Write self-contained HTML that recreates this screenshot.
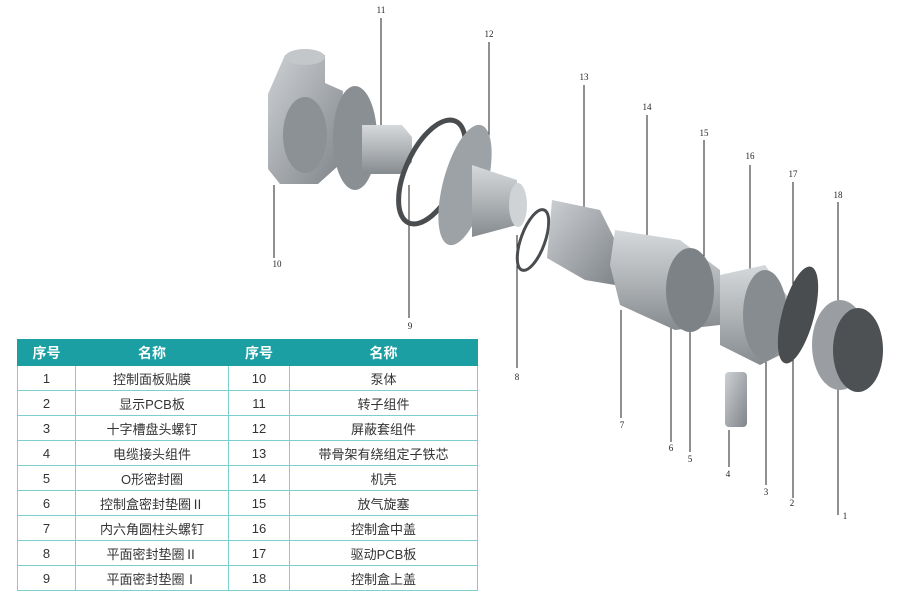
<!DOCTYPE html>
<html><head><meta charset="utf-8"><style>
html,body{margin:0;padding:0;background:#fff;width:900px;height:601px;overflow:hidden;position:relative;font-family:"Liberation Sans","Noto Sans CJK SC",sans-serif}
svg{position:absolute;left:0;top:0}
table{position:absolute;left:17px;top:339px;border-collapse:collapse;width:461px;font-size:13px;color:#333}
td,th{border:1px solid #7ccfd0;text-align:center;height:24px;padding:0}
th{background:#1c9fa3;color:#fff;font-size:14px;font-weight:bold;border-color:#1c9fa3;height:25px}
</style></head><body>
<svg width="900" height="601" viewBox="0 0 900 601">
<defs>
<linearGradient id="g" x1="0" y1="0" x2="0" y2="1"><stop offset="0" stop-color="#d6d9db"/><stop offset=".5" stop-color="#b0b4b7"/><stop offset="1" stop-color="#868b8f"/></linearGradient>
<linearGradient id="h" x1="0" y1="0" x2="1" y2="1"><stop offset="0" stop-color="#cdd0d3"/><stop offset="1" stop-color="#80858a"/></linearGradient>
</defs>
<g stroke="#222" stroke-width="1" fill="none">
<line x1="381" y1="18" x2="381" y2="170"/>
<line x1="489" y1="42" x2="489" y2="225"/>
<line x1="584" y1="85" x2="584" y2="255"/>
<line x1="647" y1="115" x2="647" y2="290"/>
<line x1="704" y1="140" x2="704" y2="318"/>
<line x1="750" y1="165" x2="750" y2="330"/>
<line x1="793" y1="182" x2="793" y2="498"/>
<line x1="838" y1="202" x2="838" y2="515"/>
<line x1="274" y1="185" x2="274" y2="258"/>
<line x1="409" y1="185" x2="409" y2="318"/>
<line x1="517" y1="235" x2="517" y2="368"/>
<line x1="621" y1="310" x2="621" y2="418"/>
<line x1="671" y1="320" x2="671" y2="442"/>
<line x1="690" y1="330" x2="690" y2="452"/>
<line x1="729" y1="430" x2="729" y2="467"/>
<line x1="766" y1="330" x2="766" y2="485"/>
</g>
<!-- pump body -->
<path d="M285 55 h40 v28 l18 8 l-5 75 l-20 18 h-38 l-12 -15 v-75 z" fill="url(#h)"/>
<ellipse cx="305" cy="57" rx="20" ry="8" fill="#c4c7ca"/>
<ellipse cx="305" cy="135" rx="22" ry="38" fill="#8c9195"/>
<!-- rotor 11 -->
<ellipse cx="355" cy="138" rx="22" ry="52" fill="#8a8f93"/>
<path d="M362 125 h40 l10 12 v25 l-10 12 h-40 z" fill="url(#g)"/>
<!-- ring 9 -->
<ellipse cx="432" cy="172" rx="26" ry="56" transform="rotate(25 432 172)" fill="none" stroke="#4a4d50" stroke-width="5"/>
<!-- shield 12 -->
<ellipse cx="465" cy="185" rx="22" ry="62" transform="rotate(15 465 185)" fill="#9da2a6"/>
<path d="M472 165 l45 15 v45 l-45 12 z" fill="url(#g)"/>
<ellipse cx="518" cy="205" rx="9" ry="22" fill="#d0d3d5"/>
<!-- ring 8 -->
<ellipse cx="533" cy="240" rx="12" ry="32" transform="rotate(20 533 240)" fill="none" stroke="#4a4d50" stroke-width="3"/>
<!-- stator 13 -->
<path d="M552 200 l48 10 l15 30 v45 l-30 -5 l-38 -22 z" fill="url(#h)"/>
<!-- casing 14 -->
<path d="M615 230 l65 10 l40 30 v55 l-45 5 l-55 -25 l-10 -40 z" fill="url(#g)"/>
<ellipse cx="690" cy="290" rx="24" ry="42" fill="#7d8286"/>
<!-- box 16 -->
<path d="M720 275 l45 -10 l25 35 v50 l-30 15 l-40 -20 z" fill="url(#g)"/>
<ellipse cx="765" cy="315" rx="22" ry="45" fill="#878c90"/>
<!-- pcb 17 -->
<ellipse cx="798" cy="315" rx="16" ry="50" transform="rotate(15 798 315)" fill="#4a4d50"/>
<!-- cover 18 -->
<ellipse cx="840" cy="345" rx="28" ry="45" fill="#9a9ea2"/>
<ellipse cx="858" cy="350" rx="25" ry="42" fill="#4e5154"/>
<!-- cable 4 -->
<rect x="725" y="372" width="22" height="55" rx="4" fill="url(#h)"/>
<g font-family="Liberation Serif, serif" font-size="9" fill="#222" text-anchor="middle">
<text x="381" y="13">11</text><text x="489" y="37">12</text><text x="584" y="80">13</text><text x="647" y="110">14</text><text x="704" y="136">15</text><text x="750" y="159">16</text><text x="793" y="177">17</text><text x="838" y="198">18</text>
<text x="277" y="267">10</text><text x="410" y="329">9</text><text x="517" y="380">8</text><text x="622" y="428">7</text><text x="671" y="451">6</text><text x="690" y="462">5</text><text x="728" y="477">4</text><text x="766" y="495">3</text><text x="792" y="506">2</text><text x="845" y="519">1</text>
</g>
</svg>
<table>
<tr><th style="width:57px">序号</th><th style="width:152px">名称</th><th style="width:60px">序号</th><th>名称</th></tr>
<tr><td>1</td><td>控制面板贴膜</td><td>10</td><td>泵体</td></tr>
<tr><td>2</td><td>显示PCB板</td><td>11</td><td>转子组件</td></tr>
<tr><td>3</td><td>十字槽盘头螺钉</td><td>12</td><td>屏蔽套组件</td></tr>
<tr><td>4</td><td>电缆接头组件</td><td>13</td><td>带骨架有绕组定子铁芯</td></tr>
<tr><td>5</td><td>O形密封圈</td><td>14</td><td>机壳</td></tr>
<tr><td>6</td><td>控制盒密封垫圈Ⅱ</td><td>15</td><td>放气旋塞</td></tr>
<tr><td>7</td><td>内六角圆柱头螺钉</td><td>16</td><td>控制盒中盖</td></tr>
<tr><td>8</td><td>平面密封垫圈Ⅱ</td><td>17</td><td>驱动PCB板</td></tr>
<tr><td>9</td><td>平面密封垫圈Ⅰ</td><td>18</td><td>控制盒上盖</td></tr>
</table>
</body></html>
